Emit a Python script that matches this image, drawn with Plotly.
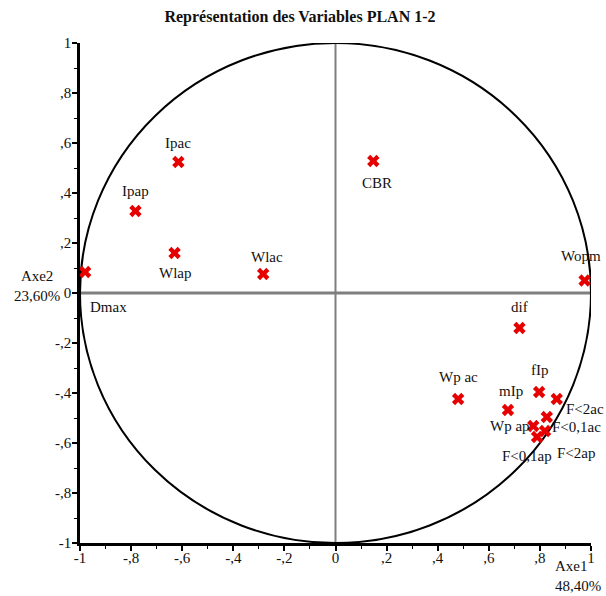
import plotly.graph_objects as go

# Variable coordinates on factorial axes 1 and 2
variables = ["Ipac", "Ipap", "Wlap", "Wlac", "CBR", "Dmax", "Wopm", "dif",
             "Wp ac", "mIp", "fIp", "F<2ac", "F<0,1ac", "Wp ap", "F<0,1ap", "F<2ap"]
axe1 = [-0.615, -0.783, -0.630, -0.283, 0.148, -0.980, 0.975, 0.720,
        0.480, 0.675, 0.797, 0.866, 0.827, 0.774, 0.789, 0.820]
axe2 = [0.524, 0.328, 0.160, 0.076, 0.528, 0.084, 0.050, -0.140,
        -0.424, -0.468, -0.396, -0.424, -0.496, -0.532, -0.576, -0.552]

tick_vals = [-1, -0.8, -0.6, -0.4, -0.2, 0, 0.2, 0.4, 0.6, 0.8, 1]
tick_text = ["-1", "-,8", "-,6", "-,4", "-,2", "0", ",2", ",4", ",6", ",8", "1"]

# label offsets in pixels (dx, dy) relative to each marker
label_shift = {
    "Ipac": (0, 19), "Ipap": (0, 20), "Wlap": (0, -20), "Wlac": (4, 17),
    "CBR": (4, -22), "Dmax": (23, -35), "Wopm": (-4, 25), "dif": (0, 21),
    "Wp ac": (0, 22), "mIp": (3, 19), "fIp": (1, 22), "F<2ac": (28, -10),
    "F<0,1ac": (30, -10), "Wp ap": (-23, 0), "F<0,1ap": (-10, -19),
    "F<2ap": (31, -22),
}

SERIF = "Liberation Serif, Times New Roman, serif"
INK = "#111"

fig = go.Figure()

fig.add_trace(go.Scatter(
    x=axe1, y=axe2, mode="markers",
    marker=dict(symbol="x", size=11, color="#e60000", line=dict(width=0)),
    hoverinfo="text", text=variables, showlegend=False, cliponaxis=False,
))

shapes = [
    dict(type="line", xref="x", yref="y", x0=-1, x1=1, y0=0, y1=0,
         line=dict(color="#7f7f7f", width=3), layer="below"),
    dict(type="line", xref="x", yref="y", x0=0, x1=0, y0=-1, y1=1,
         line=dict(color="#7f7f7f", width=2), layer="below"),
    dict(type="circle", xref="x", yref="y", x0=-1, x1=1, y0=-1, y1=1,
         line=dict(color="black", width=2), layer="below"),
]

annotations = []
for name, xv, yv in zip(variables, axe1, axe2):
    dx, dy = label_shift[name]
    annotations.append(dict(
        x=xv, y=yv, xref="x", yref="y", text=name, showarrow=False,
        xshift=dx, yshift=dy, font=dict(family=SERIF, size=15, color=INK),
    ))

annotations.append(dict(
    x=-0.085, y=0.514, xref="paper", yref="paper", text="Axe2<br>23,60%",
    showarrow=False, xanchor="center", yanchor="middle", align="center",
    font=dict(family=SERIF, size=15, color=INK),
))
annotations.append(dict(
    x=0.925, y=-0.066, xref="paper", yref="paper", text="Axe1<br>48,40%",
    showarrow=False, xanchor="left", yanchor="middle", align="left",
    font=dict(family=SERIF, size=15, color=INK),
))

axis_common = dict(
    range=[-1, 1], tickvals=tick_vals, ticktext=tick_text,
    ticks="outside", ticklen=5, tickwidth=1.5, tickcolor="black",
    showline=True, linecolor="black", linewidth=2.5,
    showgrid=False, zeroline=False,
    tickfont=dict(family=SERIF, size=15, color=INK),
    minor=dict(ticks="outside", ticklen=3, tickwidth=1, tickcolor="black",
               dtick=0.1, tick0=0, showgrid=False),
)

fig.update_layout(
    width=606, height=596,
    margin=dict(l=79.5, r=15, t=43, b=53, pad=0),
    paper_bgcolor="white", plot_bgcolor="white",
    title=dict(text="<b>Représentation des Variables PLAN 1-2</b>",
               x=0.495, xanchor="center", y=0.972, yanchor="middle",
               font=dict(family=SERIF, size=16, color=INK)),
    xaxis=dict(**axis_common, ticklabelstandoff=-6),
    yaxis=dict(**axis_common, ticklabelstandoff=-2),
    shapes=shapes, annotations=annotations,
)

fig.write_html("out.html")
